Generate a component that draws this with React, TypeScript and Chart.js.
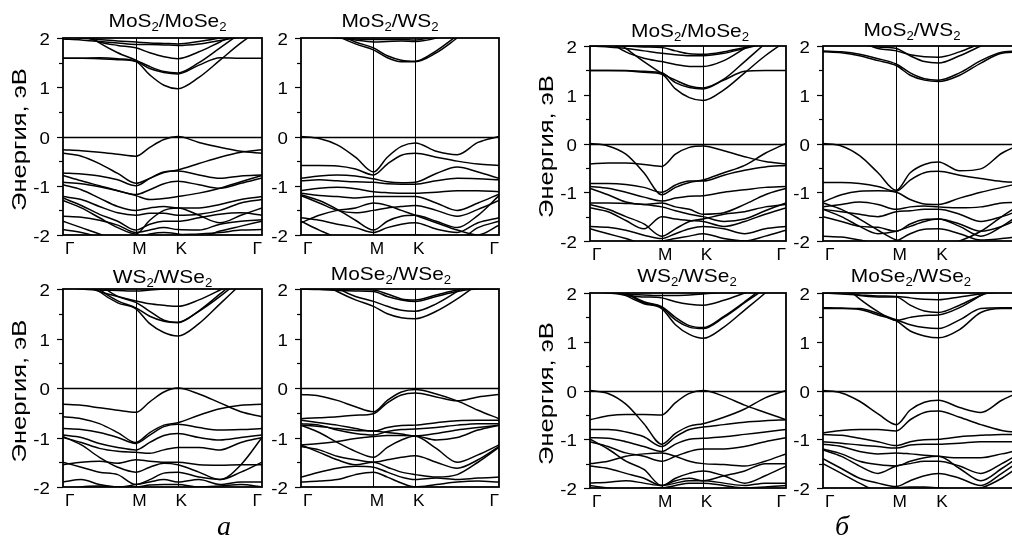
import React, { useEffect, useRef } from "react";
import { Chart, registerables } from "chart.js";
Chart.register(...registerables);

// k-path sample positions (Γ→M→K→Γ, normalised)
const K_POS = [0, 0.092, 0.183, 0.275, 0.366, 0.436, 0.507, 0.577, 0.683, 0.789, 0.894, 1];
const K_TICKS = [0, 0.366, 0.577, 1];
const K_LABELS = ["Γ", "M", "K", "Γ"];
const Y_TICKS = [2, 1, 0, -1, -2];
const Y_MINOR = [1.5, 0.5, -0.5, -1.5];
const Y_TITLE = "Энергия, эВ";
const TITLES = ["MoS_2/MoSe_2", "MoS_2/WS_2", "WS_2/WSe_2", "MoSe_2/WSe_2"];
const GROUP_LABELS = ["а", "б"];

const BANDS_A1 = [
  [1.59, 1.59, 1.58, 1.56, 1.52, 1.25, 1.04, 0.97, 1.2, 1.55, 1.9, 2.2],
  [1.59, 1.59, 1.6, 1.58, 1.53, 1.38, 1.3, 1.27, 1.45, 1.6, 1.59, 1.59],
  [2.4, 2.15, 1.9, 1.7, 1.55, 1.42, 1.32, 1.29, 1.5, 1.8, 2.1, 2.4],
  [2.2, 2.05, 1.92, 1.85, 1.8, 1.7, 1.62, 1.58, 1.72, 1.92, 2.1, 2.2],
  [1.98, 1.96, 1.93, 1.9, 1.87, 1.87, 1.86, 1.85, 1.88, 1.95, 2.02, 2.05],
  [2.05, 2.0, 1.97, 1.94, 1.92, 1.9, 1.89, 1.88, 1.93, 2.0, 2.1, 2.1],
  [-0.27, -0.29, -0.32, -0.36, -0.4, -0.22, -0.06, 0, -0.12, -0.22, -0.3, -0.34],
  [-0.34, -0.4, -0.55, -0.75, -0.95, -0.85, -0.73, -0.68, -0.55, -0.42, -0.32, -0.27],
  [-0.74, -0.76, -0.8, -0.88, -1.0, -0.85, -0.72, -0.7, -0.78, -0.85, -0.8, -0.78],
  [-0.79, -0.9, -1.0, -1.1, -1.18, -1.08, -0.96, -0.91, -0.98, -1.05, -0.95, -0.84],
  [-0.93, -0.96, -1.02, -1.1, -1.2, -1.28, -1.26, -1.22, -1.15, -1.05, -0.92, -0.79],
  [-0.98, -1.08, -1.25, -1.42, -1.5, -1.45, -1.42, -1.45, -1.45, -1.38, -1.28, -1.22],
  [-1.22, -1.28, -1.42, -1.55, -1.6, -1.56, -1.56, -1.6, -1.58, -1.5, -1.35, -1.28],
  [-1.25, -1.4, -1.58, -1.72, -1.9, -1.78, -1.72, -1.72, -1.65, -1.58, -1.55, -1.6],
  [-1.62, -1.64, -1.7, -1.8, -1.95, -1.9, -1.85, -1.89, -1.9, -1.78, -1.72, -1.69],
  [-1.72, -1.85, -1.98, -2.1, -2.05, -1.98, -1.95, -1.98, -2.05, -1.92, -1.82, -1.72],
  [-1.89, -1.95, -2.05, -2.2, -2.2, -2.1, -2.05, -2.0, -1.98, -1.95, -1.9, -1.89],
  [-1.3, -1.45, -1.65, -1.85, -1.98, -1.7, -1.5, -1.45, -1.6, -1.75, -1.6, -1.45],
];

const BANDS_A2 = [
  [2.6, 2.3, 2.05, 1.88, 1.76, 1.6, 1.52, 1.52, 1.7, 2.0, 2.3, 2.6],
  [2.65, 2.35, 2.1, 1.92, 1.8, 1.64, 1.55, 1.53, 1.74, 2.05, 2.35, 2.65],
  [2.3, 2.15, 2.02, 1.96, 1.92, 1.93, 1.94, 1.93, 2.0, 2.15, 2.3, 2.3],
  [2.1, 2.05, 2.0, 1.98, 1.97, 1.97, 1.97, 1.96, 2.05, 2.2, 2.3, 2.3],
  [0, -0.04, -0.17, -0.42, -0.72, -0.42, -0.2, -0.13, -0.3, -0.37, -0.12, 0],
  [-0.59, -0.59, -0.6, -0.66, -0.78, -0.56, -0.38, -0.34, -0.42, -0.5, -0.56, -0.59],
  [-0.85, -0.8, -0.78, -0.8, -0.86, -0.92, -0.94, -0.93, -0.75, -0.62, -0.72, -0.85],
  [-0.9, -0.88, -0.9, -0.92, -0.93, -0.96, -0.97, -0.97, -0.9, -0.85, -0.86, -0.88],
  [-1.1, -1.05, -1.03, -1.06, -1.12, -1.14, -1.15, -1.15, -1.13, -1.1, -1.1, -1.12],
  [-1.15, -1.2, -1.22, -1.25, -1.22, -1.22, -1.22, -1.22, -1.35, -1.5, -1.35, -1.17],
  [-1.18, -1.3, -1.48, -1.7, -1.9, -1.72, -1.62, -1.6, -1.72, -1.85, -1.6, -1.2],
  [-1.65, -1.7, -1.78, -1.85, -1.95, -1.85, -1.78, -1.75, -1.88, -1.95, -1.75, -1.65],
  [-1.72, -1.9, -2.05, -2.1, -2.05, -2.0, -2.0, -2.0, -2.05, -2.1, -1.85, -1.72],
  [-1.2, -1.35, -1.5, -1.55, -1.5, -1.45, -1.42, -1.4, -1.5, -1.62, -1.48, -1.3],
  [-1.75, -1.6, -1.5, -1.45, -1.35, -1.4, -1.5, -1.6, -1.75, -1.9, -2.0, -1.8],
];

const BANDS_A3 = [
  [2.6, 2.3, 1.95, 1.72, 1.6, 1.3, 1.12, 1.05, 1.3, 1.7, 2.1, 2.5],
  [2.7, 2.4, 2.0, 1.76, 1.62, 1.45, 1.35, 1.33, 1.55, 1.85, 2.2, 2.6],
  [2.8, 2.5, 2.1, 1.85, 1.73, 1.55, 1.37, 1.32, 1.56, 1.9, 2.25, 2.65],
  [2.3, 2.1, 1.95, 1.85, 1.76, 1.7, 1.67, 1.65, 1.78, 1.98, 2.2, 2.3],
  [2.05, 2.0, 1.98, 1.97, 1.96, 1.98, 2.0, 2.02, 2.05, 2.1, 2.1, 2.1],
  [-0.33, -0.35, -0.4, -0.45, -0.49, -0.28, -0.08, 0, -0.12, -0.3, -0.48, -0.58],
  [-0.58, -0.62, -0.72, -0.9, -1.1, -0.9, -0.75, -0.7, -0.55, -0.42, -0.35, -0.33],
  [-0.82, -0.84, -0.9, -1.0, -1.12, -0.95, -0.78, -0.73, -0.8, -0.85, -0.84, -0.82],
  [-0.95, -1.0, -1.12, -1.2, -1.25, -1.1, -0.96, -0.92, -1.0, -1.05, -1.0, -0.95],
  [-1.0, -1.1, -1.22, -1.28, -1.3, -1.32, -1.25, -1.2, -1.2, -1.25, -1.1, -1.0],
  [-1.55, -1.5, -1.48, -1.52, -1.45, -1.48, -1.5, -1.5, -1.55, -1.56, -1.55, -1.55],
  [-0.98, -1.15, -1.4, -1.6, -1.7, -1.6, -1.52, -1.55, -1.7, -1.85, -1.55, -1.0],
  [-1.9, -1.85, -1.95, -2.0, -1.95, -1.9, -1.85, -1.9, -1.85, -1.95, -1.9, -1.9],
  [-2.1, -2.0, -1.98, -2.0, -2.0, -1.96, -1.95, -1.95, -2.0, -1.98, -1.95, -2.0],
  [-1.5, -1.6, -1.7, -1.75, -1.95, -1.85, -1.72, -1.7, -1.8, -1.85, -1.7, -1.5],
];

const BANDS_A4 = [
  [2.4, 2.15, 1.95, 1.78, 1.65, 1.5, 1.42, 1.4, 1.55, 1.8, 2.1, 2.4],
  [2.5, 2.25, 2.02, 1.85, 1.75, 1.65, 1.57, 1.55, 1.7, 1.95, 2.25, 2.5],
  [2.0, 1.99, 1.97, 1.96, 1.95, 1.85, 1.78, 1.75, 1.85, 1.95, 2.0, 2.0],
  [2.02, 2.01, 2.0, 1.99, 1.98, 1.9, 1.8, 1.78, 1.88, 1.98, 2.02, 2.02],
  [-0.13, -0.16, -0.25, -0.38, -0.48, -0.25, -0.08, -0.03, -0.12, -0.26, -0.45, -0.62],
  [-0.62, -0.6, -0.58, -0.55, -0.52, -0.3, -0.14, -0.1, -0.18, -0.26, -0.18, -0.13],
  [-0.65, -0.7, -0.75, -0.82, -0.87, -0.8, -0.76, -0.75, -0.7, -0.66, -0.65, -0.65],
  [-0.72, -0.75, -0.85, -0.92, -0.95, -0.88, -0.84, -0.83, -0.8, -0.75, -0.72, -0.72],
  [-0.75, -0.9, -1.1, -1.28, -1.4, -1.2, -1.05, -0.97, -1.05, -1.0, -0.85, -0.75],
  [-1.15, -1.12, -1.08, -1.02, -0.98, -0.96, -0.96, -0.97, -1.22, -1.5, -1.35, -1.15],
  [-1.18, -1.25, -1.38, -1.45, -1.5, -1.45, -1.4, -1.37, -1.5, -1.62, -1.45, -1.18],
  [-1.8, -1.7, -1.62, -1.58, -1.6, -1.7, -1.8, -1.85, -1.82, -1.85, -1.82, -1.8],
  [-1.9, -1.88, -1.85, -1.75, -1.7, -1.8, -1.92, -2.0, -1.95, -1.9, -1.88, -1.9],
  [-1.15, -1.3, -1.45, -1.55, -1.5, -1.6, -1.7, -1.75, -1.8, -1.75, -1.5, -1.2],
  [-0.75, -0.78, -0.82, -0.86, -0.87, -0.9, -0.93, -0.97, -0.92, -0.85, -0.8, -0.75],
];

const BANDS_B1 = [
  [1.5, 1.5, 1.49, 1.46, 1.42, 1.12, 0.94, 0.88, 1.1, 1.45, 1.8, 2.1],
  [1.5, 1.5, 1.5, 1.48, 1.45, 1.25, 1.15, 1.12, 1.3, 1.48, 1.5, 1.5],
  [2.5, 2.22, 1.95, 1.68, 1.44, 1.3, 1.18, 1.14, 1.32, 1.68, 2.05, 2.4],
  [2.3, 2.1, 1.88, 1.75, 1.68, 1.62, 1.58, 1.58, 1.7, 1.95, 2.2, 2.3],
  [2.0, 1.98, 1.95, 1.9, 1.85, 1.82, 1.8, 1.8, 1.85, 1.95, 2.05, 2.1],
  [2.05, 2.02, 2.0, 1.98, 1.97, 1.9, 1.84, 1.83, 1.88, 1.97, 2.05, 2.1],
  [0, -0.05, -0.22, -0.6, -1.05, -0.9, -0.8, -0.75, -0.6, -0.45, -0.2, 0],
  [-0.42, -0.4, -0.4, -0.43, -0.47, -0.22, -0.08, -0.05, -0.15, -0.27, -0.37, -0.42],
  [-0.82, -0.82, -0.84, -0.9, -1.0, -0.85, -0.77, -0.77, -0.65, -0.55, -0.48, -0.45],
  [-0.88, -0.92, -1.0, -1.1, -1.18, -1.12, -1.08, -1.07, -1.0, -0.95, -0.9, -0.88],
  [-0.92, -1.05, -1.2, -1.25, -1.22, -1.3, -1.35, -1.45, -1.42, -1.25, -1.05, -0.92],
  [-1.22, -1.22, -1.23, -1.25, -1.3, -1.38, -1.45, -1.5, -1.6, -1.55, -1.38, -1.22],
  [-1.32, -1.4, -1.58, -1.75, -1.5, -1.55, -1.58, -1.6, -1.7, -1.6, -1.45, -1.32],
  [-1.7, -1.72, -1.78, -1.88, -1.95, -1.85, -1.75, -1.7, -1.75, -1.85, -1.75, -1.7],
  [-1.75, -1.85, -1.95, -2.05, -2.0, -1.95, -1.9, -1.85, -1.95, -2.0, -1.9, -1.78],
  [-1.25, -1.35, -1.5, -1.65, -1.9, -1.75, -1.6, -1.55, -1.45, -1.4, -1.3, -1.25],
];

const BANDS_B2 = [
  [1.88, 1.86, 1.8, 1.7, 1.6, 1.4, 1.3, 1.27, 1.4, 1.65, 1.85, 1.88],
  [1.9, 1.88, 1.83, 1.74, 1.63, 1.45, 1.33, 1.3, 1.45, 1.7, 1.87, 1.9],
  [2.5, 2.3, 2.1, 1.95, 1.9, 1.82, 1.78, 1.77, 1.88, 2.05, 2.2, 2.3],
  [2.3, 2.2, 2.05, 1.98, 1.95, 1.8, 1.68, 1.65, 1.8, 2.0, 2.2, 2.3],
  [0, -0.05, -0.25, -0.6, -0.96, -0.6, -0.43, -0.38, -0.56, -0.52, -0.2, 0],
  [-0.8, -0.8, -0.82, -0.88, -0.98, -0.75, -0.6, -0.57, -0.65, -0.72, -0.78, -0.8],
  [-1.2, -1.05, -0.98, -0.97, -1.0, -1.15, -1.24, -1.25, -1.12, -1.0, -0.9, -0.8],
  [-1.3, -1.25, -1.2, -1.25, -1.35, -1.3, -1.28, -1.3, -1.32, -1.3, -1.22, -1.2],
  [-1.35, -1.4, -1.45, -1.5, -1.4, -1.38, -1.35, -1.35, -1.45, -1.6, -1.5, -1.35],
  [-1.5, -1.6, -1.7, -1.72, -1.8, -1.65, -1.56, -1.55, -1.65, -1.8, -1.7, -1.5],
  [-1.9, -1.92, -1.98, -2.05, -2.0, -1.85, -1.76, -1.75, -1.85, -1.98, -1.95, -1.9],
  [-1.22, -1.35, -1.55, -1.78, -1.98, -2.05, -2.1, -2.1, -2.0, -1.8, -1.5, -1.22],
  [-1.35, -1.5, -1.7, -1.85, -1.8, -1.7, -1.6, -1.55, -1.7, -1.9, -1.7, -1.4],
];

const BANDS_B3 = [
  [2.5, 2.2, 1.95, 1.78, 1.68, 1.35, 1.15, 1.07, 1.3, 1.65, 2.0, 2.4],
  [2.6, 2.25, 2.0, 1.8, 1.7, 1.45, 1.3, 1.27, 1.5, 1.8, 2.1, 2.5],
  [2.65, 2.3, 2.02, 1.82, 1.72, 1.5, 1.33, 1.29, 1.52, 1.82, 2.15, 2.55],
  [2.2, 2.05, 1.95, 1.92, 1.9, 1.82, 1.77, 1.75, 1.85, 2.0, 2.15, 2.2],
  [2.05, 2.0, 1.97, 1.96, 1.95, 1.95, 1.96, 1.98, 2.02, 2.1, 2.1, 2.1],
  [0, -0.06, -0.28, -0.68, -1.1, -0.88, -0.73, -0.68, -0.55, -0.38, -0.15, 0],
  [-0.6, -0.52, -0.49, -0.49, -0.5, -0.25, -0.06, 0, -0.12, -0.3, -0.45, -0.6],
  [-0.8, -0.8, -0.85, -0.95, -1.15, -0.95, -0.8, -0.75, -0.7, -0.65, -0.62, -0.6],
  [-0.97, -0.98, -1.05, -1.15, -1.25, -1.1, -1.0, -0.98, -0.95, -0.9, -0.85, -0.8],
  [-1.05, -1.15, -1.28, -1.35, -1.45, -1.35, -1.25, -1.2, -1.2, -1.15, -1.05, -0.97],
  [-1.5, -1.45, -1.35, -1.3, -1.28, -1.35, -1.45, -1.5, -1.52, -1.55, -1.45, -1.3],
  [-1.0, -1.2, -1.45, -1.62, -1.95, -1.85, -1.8, -1.85, -1.75, -1.65, -1.5, -1.5],
  [-1.9, -1.88, -1.85, -1.9, -1.95, -1.9, -1.85, -1.85, -1.9, -1.95, -1.9, -1.9],
  [-1.95, -2.0, -2.05, -2.0, -2.0, -1.95, -1.9, -1.9, -1.95, -2.0, -1.98, -1.95],
  [-1.55, -1.6, -1.7, -1.8, -1.95, -1.8, -1.7, -1.65, -1.75, -1.9, -1.75, -1.55],
];

const BANDS_B4 = [
  [1.68, 1.68, 1.66, 1.55, 1.43, 1.22, 1.12, 1.08, 1.25, 1.6, 1.68, 1.68],
  [1.7, 1.69, 1.68, 1.58, 1.45, 1.35, 1.29, 1.27, 1.45, 1.68, 1.7, 1.7],
  [2.5, 2.2, 1.88, 1.62, 1.44, 1.5, 1.54, 1.55, 1.7, 1.95, 2.2, 2.3],
  [2.2, 2.05, 1.95, 1.92, 1.92, 1.75, 1.63, 1.6, 1.75, 1.95, 2.1, 2.2],
  [2.0, 1.98, 1.96, 1.94, 1.93, 1.9, 1.87, 1.86, 1.92, 1.98, 2.02, 2.05],
  [0, -0.05, -0.22, -0.48, -0.7, -0.4, -0.24, -0.2, -0.35, -0.45, -0.2, 0],
  [-0.87, -0.82, -0.8, -0.8, -0.83, -0.6, -0.45, -0.42, -0.55, -0.7, -0.82, -0.87],
  [-0.9, -0.92, -0.98, -1.05, -1.13, -1.05, -1.01, -1.0, -0.95, -0.92, -0.9, -0.9],
  [-1.05, -1.08, -1.12, -1.15, -1.18, -1.12, -1.1, -1.1, -1.08, -1.05, -1.05, -1.05],
  [-1.1, -1.15, -1.25, -1.3, -1.28, -1.3, -1.33, -1.35, -1.38, -1.38, -1.3, -1.2],
  [-1.2, -1.3, -1.45, -1.52, -1.55, -1.45, -1.38, -1.35, -1.6, -1.85, -1.6, -1.3],
  [-1.4, -1.6, -1.8, -1.9, -1.97, -1.85, -1.75, -1.7, -1.8, -1.95, -1.7, -1.4],
  [-1.5, -1.7, -1.9, -2.05, -2.0, -1.98, -1.98, -2.0, -2.05, -2.0, -1.8, -1.5],
  [-1.22, -1.35, -1.55, -1.7, -1.55, -1.5, -1.45, -1.45, -1.55, -1.7, -1.5, -1.25],
];

// Panel placement (plot-area box in page pixels)
const PANELS = [
  { title: TITLES[0], bands: BANDS_A1, left: 63, top: 38, w: 199, h: 197, yTitle: true, tdx: 5, tdy: -11 },
  { title: TITLES[1], bands: BANDS_A2, left: 301, top: 38, w: 198, h: 197, yTitle: false, tdx: -10, tdy: -11 },
  { title: TITLES[2], bands: BANDS_A3, left: 63, top: 289, w: 199, h: 198, yTitle: true, tdx: 0, tdy: -6 },
  { title: TITLES[3], bands: BANDS_A4, left: 301, top: 289, w: 198, h: 198, yTitle: false, tdx: -9, tdy: -9 },
  { title: TITLES[0], bands: BANDS_B1, left: 590, top: 46, w: 196, h: 195, yTitle: true, tdx: 2, tdy: -9 },
  { title: TITLES[1], bands: BANDS_B2, left: 823, top: 46, w: 200, h: 195, yTitle: false, tdx: -11, tdy: -10 },
  { title: TITLES[2], bands: BANDS_B3, left: 590, top: 293, w: 196, h: 195, yTitle: true, tdx: -1, tdy: -11 },
  { title: TITLES[3], bands: BANDS_B4, left: 823, top: 293, w: 200, h: 195, yTitle: false, tdx: -12, tdy: -11 },
];

const PAD_L = 60;
const PAD_R = 10;
const PAD_T = 32;
const PAD_B = 30;
const SANS = '"Liberation Sans", Arial, sans-serif';

function drawText(ctx: CanvasRenderingContext2D, text: string, x: number, y: number, size: number, stretch: number, align: CanvasTextAlign) {
  ctx.save();
  ctx.translate(x, y);
  ctx.scale(stretch, 1);
  ctx.font = `${size}px ${SANS}`;
  ctx.textAlign = align;
  ctx.textBaseline = "alphabetic";
  ctx.fillStyle = "#000";
  ctx.fillText(text, 0, 0);
  ctx.restore();
}

function parseTitle(t: string) {
  const segs: { t: string; sub: boolean }[] = [];
  let cur = "";
  for (let i = 0; i < t.length; i++) {
    if (t[i] === "_") {
      if (cur) segs.push({ t: cur, sub: false });
      cur = "";
      segs.push({ t: t[i + 1], sub: true });
      i++;
    } else cur += t[i];
  }
  if (cur) segs.push({ t: cur, sub: false });
  return segs;
}

function framePlugin(p: any) {
  return {
    id: "frame",
    afterDraw(chart: any) {
      const ctx: CanvasRenderingContext2D = chart.ctx;
      const { left, right, top, bottom } = chart.chartArea;
      const xs = chart.scales.x;
      const ys = chart.scales.y;
      ctx.save();
      ctx.strokeStyle = "#000";
      // symmetry lines M, K
      ctx.lineWidth = 1;
      [K_TICKS[1], K_TICKS[2]].forEach((k) => {
        const px = Math.round(xs.getPixelForValue(k)) + 0.5;
        ctx.beginPath();
        ctx.moveTo(px, top);
        ctx.lineTo(px, bottom);
        ctx.stroke();
      });
      // zero line
      ctx.lineWidth = 1.4;
      const y0 = Math.round(ys.getPixelForValue(0)) + 0.5;
      ctx.beginPath();
      ctx.moveTo(left, y0);
      ctx.lineTo(right, y0);
      ctx.stroke();
      // frame
      ctx.lineWidth = 1.8;
      ctx.strokeRect(left, top, right - left, bottom - top);
      // y ticks
      ctx.lineWidth = 1.2;
      Y_TICKS.forEach((v) => {
        const py = Math.round(ys.getPixelForValue(v)) + 0.5;
        ctx.beginPath();
        ctx.moveTo(left - 6, py);
        ctx.lineTo(left, py);
        ctx.stroke();
        drawText(ctx, String(v), left - 13, py + 6, 17, 1.1, "right");
      });
      Y_MINOR.forEach((v) => {
        const py = Math.round(ys.getPixelForValue(v)) + 0.5;
        ctx.beginPath();
        ctx.moveTo(left - 4, py);
        ctx.lineTo(left, py);
        ctx.stroke();
      });
      // x labels
      K_TICKS.forEach((k, i) => {
        const px = xs.getPixelForValue(k);
        const by = bottom + 19;
        if (i === 0) drawText(ctx, K_LABELS[i], px + 2, by, 16, 1.08, "left");
        else if (i === K_TICKS.length - 1) drawText(ctx, K_LABELS[i], px, by, 16, 1.08, "right");
        else drawText(ctx, K_LABELS[i], px + 3.5, by, 16, 1.08, "center");
      });
      // y title
      if (p.yTitle) {
        ctx.save();
        ctx.translate(left - 37, (top + bottom) / 2 + 3);
        ctx.rotate(-Math.PI / 2);
        ctx.scale(1.28, 1);
        ctx.font = `20px ${SANS}`;
        ctx.textAlign = "center";
        ctx.textBaseline = "alphabetic";
        ctx.fillStyle = "#000";
        ctx.fillText(Y_TITLE, 0, 0);
        ctx.restore();
      }
      // panel title with subscripts
      const segs = parseTitle(p.title);
      const st = 1.1;
      const widths = segs.map((s) => {
        ctx.font = `${s.sub ? 12 : 19}px ${SANS}`;
        return ctx.measureText(s.t).width * st;
      });
      const total = widths.reduce((a, b) => a + b, 0);
      let cx = (left + right) / 2 + p.tdx - total / 2;
      const base = top + p.tdy;
      segs.forEach((s, i) => {
        drawText(ctx, s.t, cx, base + (s.sub ? 4 : 0), s.sub ? 12 : 19, st, "left");
        cx += widths[i];
      });
      ctx.restore();
    },
  };
}

function Panel({ p }: { p: any }) {
  const ref = useRef<HTMLCanvasElement>(null);
  const W = PAD_L + p.w + PAD_R;
  const H = PAD_T + p.h + PAD_B;
  useEffect(() => {
    if (!ref.current) return;
    const chart = new Chart(ref.current, {
      type: "line",
      data: {
        datasets: p.bands.map((b: number[]) => ({
          data: K_POS.map((k, i) => ({ x: k, y: b[i] })),
          borderColor: "#000",
          borderWidth: 1.5,
          pointRadius: 0,
          fill: false,
          cubicInterpolationMode: "monotone",
        })),
      },
      options: {
        responsive: false,
        animation: false,
        events: [],
        layout: { padding: { left: PAD_L, right: PAD_R, top: PAD_T, bottom: PAD_B } },
        scales: {
          x: { type: "linear", min: 0, max: 1, display: false },
          y: { type: "linear", min: -2, max: 2, display: false },
        },
        plugins: { legend: { display: false }, tooltip: { enabled: false } },
      },
      plugins: [framePlugin(p)],
    } as any);
    return () => chart.destroy();
  }, []);
  return (
    <canvas
      ref={ref}
      width={W}
      height={H}
      style={{ position: "absolute", left: p.left - PAD_L, top: p.top - PAD_T, width: W, height: H }}
    />
  );
}

export default function App() {
  return (
    <div style={{ position: "absolute", left: 0, top: 0, width: 1012, height: 539, overflow: "hidden", background: "#fff" }}>
      {PANELS.map((p, i) => (
        <Panel key={i} p={p} />
      ))}
      <div style={{ position: "absolute", left: 224, top: 512, transform: "translateX(-50%)", font: 'italic 28px "Liberation Serif", serif', lineHeight: "28px" }}>
        {GROUP_LABELS[0]}
      </div>
      <div style={{ position: "absolute", left: 842, top: 512, transform: "translateX(-50%)", font: 'italic 28px "Liberation Serif", serif', lineHeight: "28px" }}>
        {GROUP_LABELS[1]}
      </div>
    </div>
  );
}
